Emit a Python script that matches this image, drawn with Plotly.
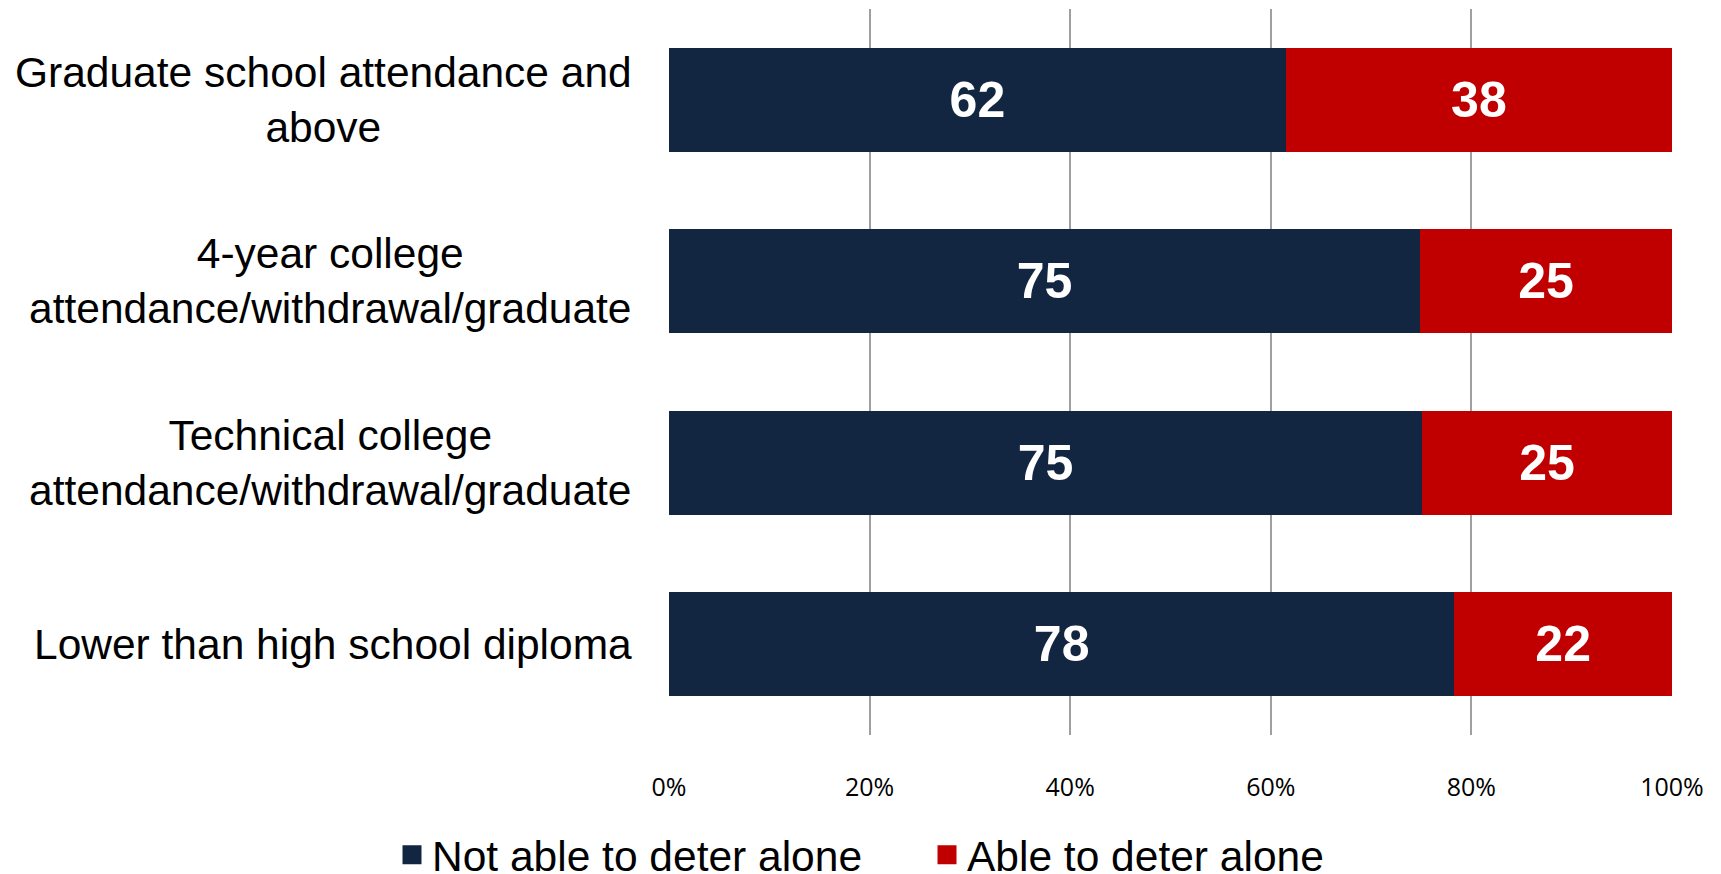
import plotly.graph_objects as go

# ---- data ----
categories = [
    "Graduate school attendance and<br>above",
    "4-year college<br>attendance/withdrawal/graduate",
    "Technical college<br>attendance/withdrawal/graduate",
    "Lower than high school diploma",
]
series_names = ["Not able to deter alone", "Able to deter alone"]
not_able = [61.5, 74.9, 75.1, 78.3]
able = [38.5, 25.1, 24.9, 21.7]
not_able_labels = ["62", "75", "75", "78"]
able_labels = ["38", "25", "25", "22"]
tick_values = [0, 20, 40, 60, 80, 100]
tick_labels = ["0%", "20%", "40%", "60%", "80%", "100%"]

NAVY = "#132641"
RED = "#C00000"
GRID = "#A0A0A0"
LABEL_FONT = "Liberation Sans, Arial, sans-serif"

# page body has an 8px default margin; size the figure to fit the window
W, H = 1713, 866

fig = go.Figure()
legend_ids = ["legend", "legend2"]
for vals, labels, color, name, lg in [
    (not_able, not_able_labels, NAVY, series_names[0], legend_ids[0]),
    (able, able_labels, RED, series_names[1], legend_ids[1]),
]:
    fig.add_trace(go.Bar(
        y=categories, x=vals, orientation="h", name=name,
        marker=dict(color=color, line=dict(width=0)),
        text=labels, textposition="inside", insidetextanchor="middle",
        textangle=0,
        textfont=dict(family=LABEL_FONT, size=50, color="white", weight="bold"),
        showlegend=False, hoverinfo="skip",
    ))
    # legend entry with larger square symbol
    fig.add_trace(go.Scatter(
        x=[None], y=[None], mode="markers", name=name,
        marker=dict(symbol="square", size=16, color=color,
                    line=dict(color=color, width=3)),
        showlegend=True, hoverinfo="skip", legend=lg,
    ))

# category labels (right-aligned block, centered lines)
for cat in categories:
    fig.add_annotation(
        x=0, xref="paper", xanchor="right", xshift=-35,
        y=cat, yref="y", yanchor="middle",
        text=cat, showarrow=False, align="center",
        font=dict(family=LABEL_FONT, size=42.5, color="black"),
    )

legend_common = dict(
    orientation="h", xref="container", yref="container",
    xanchor="left", y=(H - 847) / H, yanchor="middle",
    font=dict(family=LABEL_FONT, size=42.5, color="black"),
    bgcolor="rgba(0,0,0,0)",
)

fig.update_layout(
    width=W, height=H,
    margin=dict(l=661, r=49, t=1, b=139, autoexpand=False),
    barmode="stack", bargap=0.427,
    plot_bgcolor="white", paper_bgcolor="white",
    legend=dict(x=384 / W, **legend_common),
    legend2=dict(x=919 / W, **legend_common),
    uniformtext=dict(mode=False),
)
fig.update_xaxes(
    range=[0, 100], tickvals=tick_values, ticktext=tick_labels,
    showgrid=True, gridcolor=GRID, gridwidth=1.5,
    zeroline=False, showline=False, ticks="",
    tickfont=dict(family="Open Sans, sans-serif", size=25, color="black"),
    ticklabelstandoff=35, fixedrange=True, automargin=False,
)
fig.update_yaxes(
    categoryorder="array", categoryarray=categories, autorange="reversed",
    showticklabels=False, showgrid=False, zeroline=False, showline=False,
    ticks="", fixedrange=True, automargin=False,
)

fig.write_html("out.html")
